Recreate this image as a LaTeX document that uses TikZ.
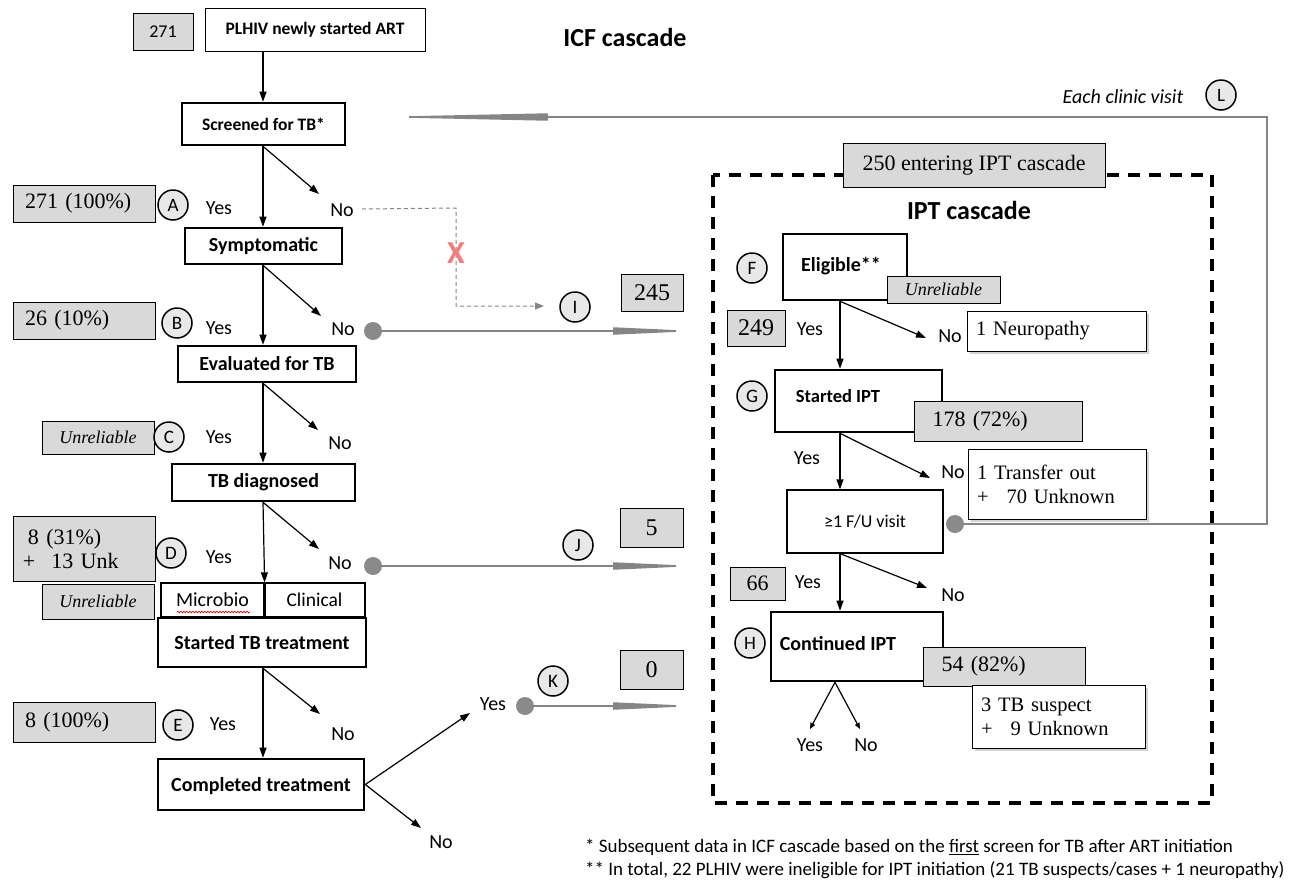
\documentclass[tikz,border=0pt]{standalone}
\usepackage{fontspec}
\setmainfont{Liberation Serif}
\newfontfamily\sansf{Carlito}
\usetikzlibrary{arrows.meta,shadows,decorations.pathmorphing}
\definecolor{boxgray}{HTML}{D9D9D9}
\definecolor{circgray}{HTML}{E8E8E8}
\definecolor{arrgray}{HTML}{858585}
\definecolor{dotgray}{HTML}{8A8A8A}
\definecolor{xred}{HTML}{F07C7C}
\begin{document}
\begin{tikzpicture}[x=1pt,y=-1pt,
  thickbox/.style={draw, line width=2.6pt, fill=white, inner sep=0pt, font=\sansf\bfseries\fontsize{20}{24}\selectfont},
  thinbox/.style={draw, line width=1pt, fill=white, inner sep=0pt, font=\sansf\fontsize{20}{24}\selectfont},
  graybox/.style={draw, line width=0.9pt, fill=boxgray, inner sep=0pt, font=\fontsize{22}{26}\selectfont},
  numbox/.style={graybox, font=\fontsize{24}{28}\selectfont},
  lgray/.style={graybox, align=left, inner xsep=12pt},
  unrel/.style={graybox, font=\itshape\fontsize{18}{21}\selectfont},
  whitebox/.style={draw, line width=0.9pt, fill=white, inner sep=0pt, align=left, inner xsep=9pt,
     font=\fontsize{20.5}{24}\selectfont, drop shadow={opacity=0.35, shadow xshift=2.5pt, shadow yshift=-2.5pt}},
  circ/.style={circle, draw, line width=1.5pt, fill=circgray, minimum size=30pt, inner sep=0pt, font=\sansf\fontsize{19}{19}\selectfont},
  lbl/.style={inner sep=0pt, font=\sansf\fontsize{20}{24}\selectfont},
  arr/.style={line width=1.2pt, -{Triangle[length=10pt,width=7pt]}},
  garr/.style={draw=arrgray, line width=1.8pt, -{Triangle[length=85pt,width=7pt]}},
  gdot/.style={circle, fill=dotgray, minimum size=18pt, inner sep=0pt},
  title/.style={inner sep=0pt, font=\sansf\bfseries\fontsize{26}{30}\selectfont}
]
\useasboundingbox (0,0) rectangle (1293,884);

% ---------------- ICF cascade (left) ----------------
\node[graybox, font=\sansf\fontsize{18}{21}\selectfont, minimum width=60pt, minimum height=37pt] (n271) at (163,31.5) {271};
\node[thinbox, font=\sansf\bfseries\fontsize{17.5}{21}\selectfont, minimum width=220pt, minimum height=43pt] (plhiv) at (315,29.5) {PLHIV newly started ART};
\node[title] (icf) at (625,37) {ICF cascade};

\node[thickbox, font=\sansf\bfseries\fontsize{17.5}{21}\selectfont, minimum width=163pt, minimum height=42pt] (screen) at (263.5,124) {Screened for TB*};
\node[thickbox, minimum width=157pt, minimum height=36pt] (symp) at (263.5,246) {Symptomatic};
\node[thickbox, minimum width=178pt, minimum height=36pt] (eval) at (267,364) {Evaluated for TB};
\node[thickbox, minimum width=183pt, minimum height=37pt] (diag) at (263.5,482.5) {TB diagnosed};
\node[thickbox, minimum width=208pt, minimum height=49pt, text depth=-6pt] (ttx) at (262,642.5) {Started TB treatment};
\node[thinbox, line width=1.2pt, minimum width=103pt, minimum height=34pt] (micro) at (212.5,600) {Microbio};
\node[thinbox, line width=1.2pt, minimum width=101pt, minimum height=34pt, font=\sansf\fontsize{19.5}{23}\selectfont] (clin) at (314.5,600) {Clinical};
\draw[line width=2.6pt] (micro.north east) -- (micro.south east);
\node[thickbox, minimum width=206pt, minimum height=51pt, text depth=-3pt] (compl) at (261,784.5) {Completed treatment};
\draw[red!85!black, line width=0.6pt, decorate, decoration={snake, amplitude=0.9pt, segment length=3pt}] (177,612) -- (250,612);

% main vertical arrows
\draw[arr] (plhiv.south -| 263,0) -- (screen.north -| 263,0);
\draw[arr] (screen.south -| 263,0) -- (symp.north -| 263,0);
\draw[arr] (symp.south -| 263,0) -- (eval.north -| 263,0);
\draw[arr] (eval.south -| 263,0) -- (diag.north -| 263,0);
\draw[arr] (diag.south -| 263,0) -- (micro.north east);
\draw[arr] (ttx.south -| 263,0) -- (compl.north -| 263,0);

% diagonal "No" arrows
\coordinate (d1) at (319,194);
\coordinate (d2) at (321,316);
\coordinate (d3) at (318,430);
\coordinate (d4) at (319,549);
\coordinate (d5) at (320,714);
\draw[arr] (screen.south -| 263,0) -- (d1);
\draw[arr] (symp.south -| 263,0) -- (d2);
\draw[arr] (eval.south -| 263,0) -- (d3);
\draw[arr] (diag.south -| 263,0) -- (d4);
\draw[arr] (ttx.south -| 263,0) -- (d5);

% Yes / No labels left
\node[lbl] (yA) at (219,208) {Yes};
\node[lbl] (nA) at (342,210) {No};
\node[lbl] (yB) at (219,328) {Yes};
\node[lbl] (nB) at (343,329) {No};
\node[lbl] (yC) at (219,437) {Yes};
\node[lbl] (nC) at (340,443) {No};
\node[lbl] (yD) at (219,557) {Yes};
\node[lbl] (nD) at (340,563) {No};
\node[lbl] (yE) at (223,724) {Yes};
\node[lbl] (nE) at (343,734) {No};

% side data boxes
\node[lgray, text width=118pt, minimum height=37pt] (bA) at (84,203.5) {271 (100\%)};
\node[circ] (cA) at (173,205) {A};
\node[lgray, text width=118pt, minimum height=37pt] (bB) at (84,320.5) {26 (10\%)};
\node[circ] (cB) at (177,323) {B};
\node[unrel, minimum width=112pt, minimum height=33pt] (bC) at (98,437.5) {Unreliable};
\node[circ] (cC) at (169,437) {C};
\node[lgray, text width=122pt, inner xsep=10pt, minimum height=65pt, font=\fontsize{22}{24}\selectfont] (bD) at (84,548.5) {\hspace{5pt}8 (31\%)\\+\hspace{16pt}13 Unk};
\node[circ] (cD) at (171,553) {D};
\node[unrel, minimum width=112pt, minimum height=35pt] (bD2) at (98,601.5) {Unreliable};
\node[lgray, text width=118pt, minimum height=40pt] (bE) at (84,722) {8 (100\%)};
\node[circ] (cE) at (178,725) {E};

% completed treatment branches
\coordinate (cy) at (470,713);
\coordinate (cn) at (421,828);
\draw[arr] (compl.east) -- (cy);
\draw[arr] (compl.east) -- (cn);
\node[lbl] (yK) at (493,704) {Yes};
\node[lbl] (nK) at (441,842) {No};

% gray links to IPT cascade
\node[gdot] (dotI) at (373,331) {};
\node[gdot] (dotJ) at (373,566) {};
\node[gdot] (dotK) at (525,706) {};
\coordinate (eI) at (698,331);
\coordinate (eJ) at (698,566);
\coordinate (eK) at (698,706);
\draw[garr] (dotI.east) -- (eI);
\draw[garr] (dotJ.east) -- (eJ);
\draw[garr] (dotK.east) -- (eK);
\node[circ] (cI) at (575,307) {I};
\node[circ] (cJ) at (578,545) {J};
\node[circ] (cK) at (553,681) {K};
\node[numbox, minimum width=62pt, minimum height=37pt] (b245) at (652,292.5) {245};
\node[numbox, minimum width=63pt, minimum height=39pt] (b5) at (651.5,527.5) {5};
\node[numbox, minimum width=63pt, minimum height=39pt] (b0) at (651.5,669.5) {0};

% dashed crossed-out path
\coordinate (x1) at (456,208);
\coordinate (x2) at (456,306);
\coordinate (x3) at (544,306);
\draw[arrgray, line width=1pt, dash pattern=on 4pt off 3pt, -{Triangle[length=9pt,width=7pt]}] (nA.east) ++(8,-1) -- (x1) -- (x2) -- (x3);
\node[inner sep=0pt, text=xred, font=\sansf\bfseries\fontsize{32}{32}\selectfont] (xmark) at (456,253) {X};

% ---------------- IPT cascade (right) ----------------
\draw[line width=3.5pt, dash pattern=on 12pt off 9pt] (713,175) rectangle (1212,803);
\node[graybox, minimum width=262pt, minimum height=44pt] (b250) at (974,165) {250 entering IPT cascade};
\node[title] (ipt) at (969,210) {IPT cascade};

\node[thickbox, minimum width=124pt, minimum height=66pt] (elig) at (845,267) {};
\node[inner sep=0pt, font=\sansf\bfseries\fontsize{20}{24}\selectfont] (eligt) at (841,266) {Eligible**};
\node[circ] (cF) at (752,268) {F};
\node[unrel, minimum width=113pt, minimum height=27pt] (bF) at (943.5,289.5) {Unreliable};
\node[numbox, minimum width=58pt, minimum height=36pt] (b249) at (756,328) {249};
\node[lbl] (yF) at (810,329) {Yes};
\node[lbl] (nF) at (950,336) {No};
\node[whitebox, text width=161pt, minimum height=40pt] (neuro) at (1056.5,331) {1 Neuropathy};

\node[thickbox, minimum width=167pt, minimum height=62pt] (sipt) at (858.5,401) {};
\node[inner sep=0pt, font=\sansf\bfseries\fontsize{18.5}{22}\selectfont] (sipt-t) at (838,396) {Started IPT};
\node[circ] (cG) at (752,396) {G};
\coordinate (eF) at (926,338);
\draw[arr] (elig.south -| 840,0) -- (sipt.north -| 840,0);
\draw[arr] (elig.south -| 840,0) -- (eF);

\node[graybox, text width=147pt, inner xsep=10.5pt, align=left, minimum height=40pt] (b178) at (998,421) {\hspace{8pt}178 (72\%)};
\node[lbl] (yG) at (807,458) {Yes};
\node[lbl] (nG) at (953,472) {No};
\node[whitebox, text width=160pt, minimum height=70pt] (trans) at (1057,484) {1 Transfer out\\+\hspace{18pt}70 Unknown};

\node[thinbox, line width=1.2pt, minimum width=156pt, minimum height=63pt, font=\sansf\fontsize{18}{21}\selectfont] (fu) at (865,521.5) {≥1 F/U visit};
\coordinate (eG) at (930,478);
\draw[arr] (sipt.south -| 840,0) -- (fu.north -| 840,0);
\draw[arr] (sipt.south -| 840,0) -- (eG);

\node[numbox, font=\fontsize{22}{26}\selectfont, minimum width=55pt, minimum height=33pt] (b66) at (757.5,583.5) {66};
\node[lbl] (yFU) at (808,582) {Yes};
\node[lbl] (nFU) at (953,595) {No};

\node[thickbox, minimum width=172pt, minimum height=69pt] (cont) at (857,646.5) {};
\node[inner sep=0pt, font=\sansf\bfseries\fontsize{20}{24}\selectfont] (cont-t) at (838,644) {Continued IPT};
\node[circ] (cH) at (750,643) {H};
\coordinate (eFU) at (927,588);
\draw[arr] (fu.south -| 840,0) -- (cont.north -| 840,0);
\draw[arr] (fu.south -| 840,0) -- (eFU);

\node[graybox, text width=141pt, inner xsep=10.5pt, align=left, minimum height=39pt] (b54) at (1004,666.5) {\hspace{8pt}54 (82\%)};
\node[whitebox, text width=155pt, minimum height=63pt] (tbs) at (1058.5,716.5) {3 TB suspect\\+\hspace{18pt}9 Unknown};

\coordinate (hy) at (810,729);
\coordinate (hn) at (860,729);
\draw[line width=1.2pt, -{Triangle[length=6pt,width=5pt]}] (cont.south -| 835,0) -- (hy);
\draw[line width=1.2pt, -{Triangle[length=6pt,width=5pt]}] (cont.south -| 835,0) -- (hn);
\node[lbl] (yH) at (810,745) {Yes};
\node[lbl] (nH) at (866,745) {No};

% ---------------- L feedback loop ----------------
\node[gdot] (dotL) at (955,524) {};
\coordinate (L1) at (1267,524);
\coordinate (L2) at (1267,117);
\coordinate (L3) at (368,117);
\draw[arrgray, line width=1.6pt, -{Triangle[length=180pt,width=7pt]}] (dotL.east) -- (L1) -- (L2) -- (L3);
\node[inner sep=0pt, font=\sansf\itshape\fontsize{20}{24}\selectfont] (each) at (1123,97) {Each clinic visit};
\node[circ] (cL) at (1221,95) {L};

% ---------------- footnotes ----------------
\node[anchor=west, inner sep=0pt, font=\sansf\fontsize{19}{22}\selectfont] (fn1) at (585,847) {* Subsequent data in ICF cascade based on the \underline{first} screen for TB after ART initiation};
\node[anchor=west, inner sep=0pt, font=\sansf\fontsize{19}{22}\selectfont] (fn2) at (585,870) {** In total, 22 PLHIV were ineligible for IPT initiation (21 TB suspects/cases + 1 neuropathy)};
\end{tikzpicture}
\end{document}
